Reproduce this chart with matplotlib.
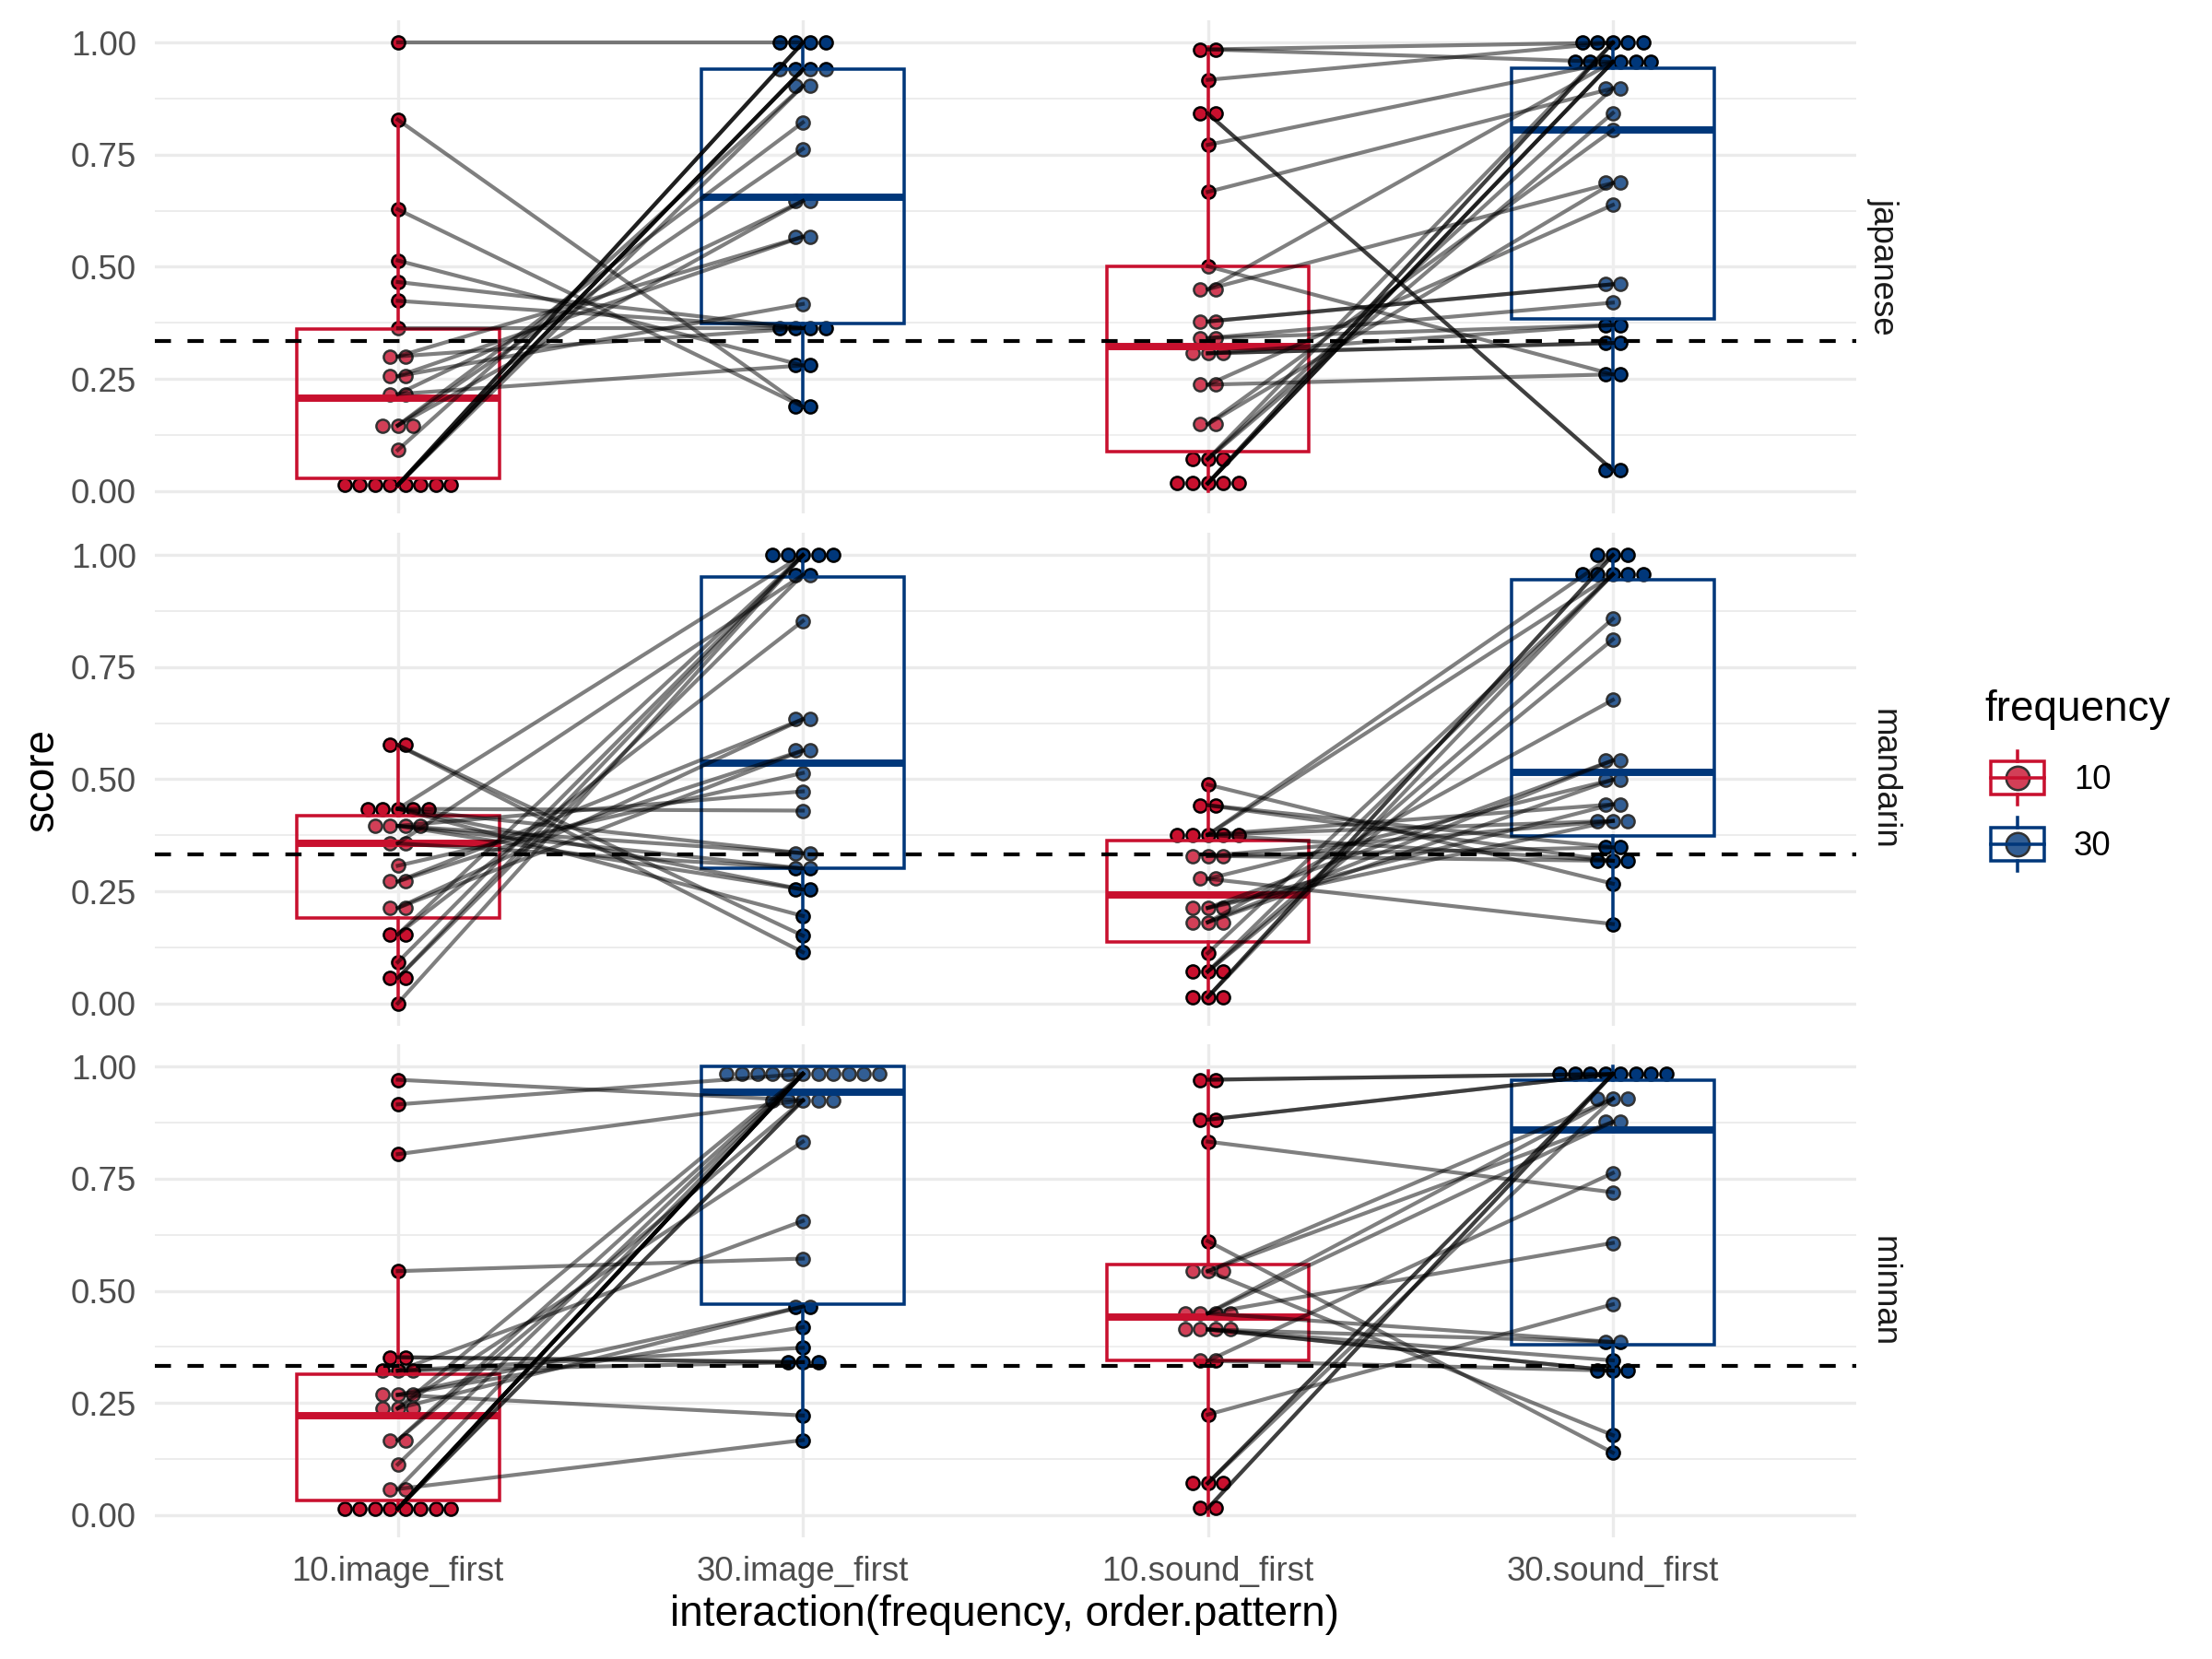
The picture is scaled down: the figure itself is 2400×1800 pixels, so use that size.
import numpy as np
import matplotlib.pyplot as plt
from matplotlib.lines import Line2D
from matplotlib.patches import Rectangle
from matplotlib.legend_handler import HandlerBase

plt.rcParams['font.family'] = ['Liberation Sans', 'DejaVu Sans']

groups = ['10.image_first', '30.image_first', '10.sound_first', '30.sound_first']
languages = ['japanese', 'mandarin', 'minnan']
chance = 1 / 3
nan = np.nan

# paired scores per participant, frequency 10 -> frequency 30
jp_img_10 = [1.00, 0.828, 0.628, 0.514, 0.466, 0.424, 0.363, 0.30, 0.216, 0.30,
             0.256, 0.256, 0.216, 0.146, 0.146, 0.146, 0.091, 0.013, 0.013,
             0.013, 0.013, 0.013, 0.013, 0.013, 0.013]
jp_img_30 = [1.00, 0.188, 0.188, 0.28, 0.363, 0.363, 0.363, 0.363, 0.28, 0.567,
             0.567, 0.417, 0.647, 0.647, 0.763, 0.822, 0.903, 0.903, 1.00,
             1.00, 1.00, 0.94, 0.94, 0.94, 0.94]
jp_snd_10 = [0.985, 0.985, 0.917, 0.842, 0.842, 0.772, 0.667, 0.501, 0.45, 0.45,
             0.378, 0.378, 0.341, 0.341, 0.307, 0.307, 0.307, 0.237, 0.237,
             0.149, 0.149, 0.071, 0.071, 0.071, 0.017, 0.017, 0.017, 0.017,
             0.017]
jp_snd_30 = [1.00, 0.957, 1.00, 0.046, 0.046, 0.957, 0.898, 0.26, 0.957, 0.687,
             0.461, 0.461, 0.42, 0.37, 0.37, 0.33, 0.33, 0.26, 0.638, 0.687,
             0.805, 0.843, 0.898, 1.00, 1.00, 1.00, 0.957, 0.957, 0.957]
md_img_10 = [0.576, 0.576, 0.434, 0.434, 0.434, 0.434, 0.434, 0.396, 0.396,
             0.396, 0.396, 0.357, 0.357, 0.307, 0.272, 0.272, 0.213, 0.213,
             0.154, 0.154, 0.092, 0.057, 0.057, 0.0]
md_img_30 = [0.151, 0.114, 1.0, 0.43, 0.335, 0.254, 0.195, 0.473, 0.335, 0.301,
             0.254, 0.956, 0.301, 0.514, 0.564, 0.634, 0.564, 0.634, 1.0,
             0.853, 1.0, 1.0, 0.956, 1.0]
md_snd_10 = [0.488, 0.442, 0.442, 0.376, 0.376, 0.376, 0.376, 0.376, 0.329,
             0.329, 0.329, 0.278, 0.278, 0.213, 0.213, 0.213, 0.181, 0.181,
             0.181, 0.112, 0.071, 0.071, 0.071, 0.014, 0.014, 0.014, nan]
md_snd_30 = [0.267, 0.318, 0.348, 1.0, 0.957, 0.444, 0.407, 0.318, 0.348, 0.318,
             0.407, 0.177, 0.499, 0.542, 0.407, 0.444, 0.499, 0.542, 0.677,
             0.957, 0.858, 0.812, 0.957, 1.0, 1.0, 0.957, 0.957]
mn_img_10 = [0.971, 0.916, 0.805, 0.544, 0.352, 0.352, 0.322, 0.322, 0.322,
             0.268, 0.268, 0.268, 0.238, 0.238, 0.238, 0.167, 0.167, 0.113,
             0.058, 0.058, 0.014, 0.014, 0.014, 0.014, 0.014, 0.014, 0.014,
             0.014]
mn_img_30 = [0.925, 0.984, 0.925, 0.572, 0.341, 0.341, 0.341, 0.373, 0.656,
             0.222, 0.419, 0.465, 0.465, 0.833, 0.984, 0.984, 0.925, 0.984,
             0.167, 0.984, 0.984, 0.984, 0.984, 0.984, 0.984, 0.984, 0.925,
             0.925]
mn_snd_10 = [0.971, 0.971, 0.882, 0.882, 0.833, 0.611, 0.544, 0.544, 0.544,
             0.45, 0.45, 0.45, 0.45, 0.414, 0.414, 0.414, 0.414, 0.344, 0.344,
             0.224, 0.071, 0.071, 0.071, 0.015, 0.015]
mn_snd_30 = [0.984, 0.984, 0.984, 0.984, 0.72, 0.139, 0.929, 0.877, 0.178,
             0.877, 0.607, 0.386, 0.929, 0.386, 0.345, 0.322, 0.322, 0.322,
             0.763, 0.47, 0.984, 0.984, 0.929, 0.984, 0.984]

# box statistics (rows: languages, cols: groups)
box_lo = [[0.01, 0.188, 0.0, 0.046],
          [0.0, 0.114, 0.014, 0.177],
          [0.01, 0.167, 0.0, 0.139]]
box_q1 = [[0.028, 0.373, 0.087, 0.383],
          [0.191, 0.301, 0.138, 0.374],
          [0.033, 0.470, 0.344, 0.380]]
box_med = [[0.206, 0.656, 0.323, 0.805],
           [0.357, 0.536, 0.242, 0.515],
           [0.222, 0.943, 0.441, 0.860]]
box_q3 = [[0.361, 0.941, 0.500, 0.943],
          [0.419, 0.952, 0.363, 0.945],
          [0.314, 1.000, 0.559, 0.971]]
box_hi = [[0.828, 1.0, 0.99, 1.0],
          [0.576, 1.0, 0.488, 1.0],
          [0.544, 1.0, 0.99, 1.0]]

scores = {
    'japanese': [jp_img_10, jp_img_30, jp_snd_10, jp_snd_30],
    'mandarin': [md_img_10, md_img_30, md_snd_10, md_snd_30],
    'minnan': [mn_img_10, mn_img_30, mn_snd_10, mn_snd_30],
}

RED = '#C8102E'
BLUE = '#00377A'
group_colors = [RED, BLUE, RED, BLUE]
GRID = '#EBEBEB'
dot_step = 0.0376
KEY = 17.28  # legend key size in points


class BoxDotKey(HandlerBase):
    # boxplot key with a dot, drawn at a fixed size around the handle centre
    def create_artists(self, legend, orig_handle, xdescent, ydescent,
                       width, height, fontsize, trans):
        col = orig_handle.get_color()
        cx = -xdescent + width / 2
        cy = -ydescent + height / 2
        k = KEY
        dot = Line2D([cx], [cy], marker='o', ms=6.1, mfc=col, mec='black',
                     mew=0.6, transform=trans)
        rect = Rectangle((cx - 0.4 * k, cy - 0.25 * k), 0.8 * k, 0.5 * k,
                         fc=(1, 1, 1, 0.2), ec=col, lw=0.85, transform=trans)
        med = Line2D([cx - 0.4 * k, cx + 0.4 * k], [cy, cy],
                     color=col, lw=0.85, transform=trans)
        wlo = Line2D([cx, cx], [cy - 0.4 * k, cy - 0.25 * k],
                     color=col, lw=0.85, transform=trans)
        whi = Line2D([cx, cx], [cy + 0.25 * k, cy + 0.4 * k],
                     color=col, lw=0.85, transform=trans)
        return [dot, rect, med, wlo, whi]


fig = plt.figure(figsize=(8, 6), dpi=300)
panel_bottoms = [0.6906, 0.3817, 0.0733]

for i, lang in enumerate(languages):
    ax = fig.add_axes([0.070, panel_bottoms[i], 0.769, 0.2972])
    vals = scores[lang]

    # stacked dots (dotplot style, centred on the group)
    for g in range(4):
        v = np.asarray(vals[g], float)
        v = v[~np.isnan(v)]
        uniq, counts = np.unique(v, return_counts=True)
        xs, ys = [], []
        for u, n in zip(uniq, counts):
            xs.extend(g + 1 + (np.arange(n) - (n - 1) / 2) * dot_step)
            ys.extend([u] * n)
        ax.plot(xs, ys, 'o', ms=3.4, mfc=group_colors[g], mec='black',
                mew=0.6, ls='none', zorder=2)

    # boxes
    stats = [dict(whislo=box_lo[i][g], q1=box_q1[i][g], med=box_med[i][g],
                  q3=box_q3[i][g], whishi=box_hi[i][g], fliers=[])
             for g in range(4)]
    bp = ax.bxp(stats, positions=[1, 2, 3, 4], widths=0.5, patch_artist=True,
                showcaps=False, showfliers=False, manage_ticks=False,
                zorder=3)
    for g in range(4):
        col = group_colors[g]
        bp['boxes'][g].set(facecolor=(1, 1, 1, 0.2), edgecolor=col, lw=0.85)
        bp['medians'][g].set(color=col, lw=1.9, solid_capstyle='butt')
        for wk in bp['whiskers'][2 * g:2 * g + 2]:
            wk.set(color=col, lw=0.85)

    # paired participant lines
    for a, b in zip(vals[0], vals[1]):
        ax.plot([1, 2], [a, b], color='black', alpha=0.5, lw=1.0, zorder=4)
    for a, b in zip(vals[2], vals[3]):
        ax.plot([3, 4], [a, b], color='black', alpha=0.5, lw=1.0, zorder=4)

    ax.axhline(chance, color='black', lw=1.0, ls=(0, (4.2, 4.3)), zorder=5)

    ax.set_xlim(0.4, 4.6)
    ax.set_ylim(-0.05, 1.05)
    ax.set_xticks([1, 2, 3, 4])
    ax.set_yticks([0, 0.25, 0.5, 0.75, 1.0])
    ax.set_yticks([0.125, 0.375, 0.625, 0.875], minor=True)
    ax.set_yticklabels(['0.00', '0.25', '0.50', '0.75', '1.00'])
    if i == len(languages) - 1:
        ax.set_xticklabels(groups)
    else:
        ax.tick_params(axis='x', labelbottom=False)
    ax.set_axisbelow(True)
    ax.grid(axis='y', which='major', color=GRID, lw=0.8)
    ax.grid(axis='y', which='minor', color=GRID, lw=0.45)
    ax.grid(axis='x', which='major', color=GRID, lw=0.8)
    ax.tick_params(which='both', length=0, pad=4.8, labelsize=8.8,
                   labelcolor='#4D4D4D')
    for s in ax.spines.values():
        s.set_visible(False)
    ax.text(1.0163, 0.5, lang, transform=ax.transAxes, rotation=-90,
            ha='center', va='center', fontsize=8.8, color='#1A1A1A')

fig.text(0.019, 0.53, 'score', rotation=90, ha='center', va='center',
         fontsize=11)
fig.text(0.454, 0.0267, 'interaction(frequency, order.pattern)', ha='center',
         va='center', fontsize=11)

handles = [Line2D([], [], color=RED), Line2D([], [], color=BLUE)]
fig.legend(handles, ['10', '30'], title='frequency',
           handler_map={Line2D: BoxDotKey()}, loc='center left',
           bbox_to_anchor=(0.8895, 0.532), frameon=False, fontsize=8.8,
           title_fontsize=11, handlelength=1.96, handleheight=1.343,
           handletextpad=0.68, labelspacing=0.845, borderpad=0,
           alignment='left')

fig.savefig('out.png', dpi=300)
